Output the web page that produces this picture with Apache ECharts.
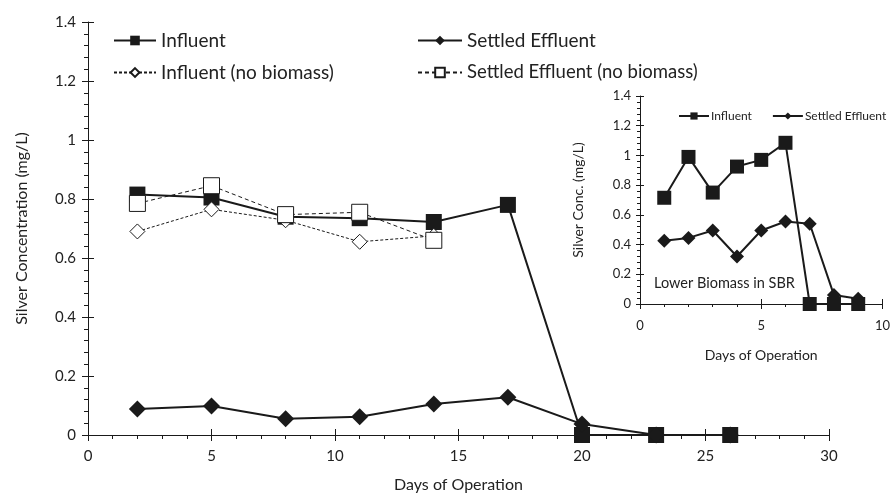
<!DOCTYPE html>
<html>
<head>
<meta charset="utf-8">
<script src="https://cdn.jsdelivr.net/npm/echarts@6/dist/echarts.min.js"></script>
<style>
  html, body { margin: 0; padding: 0; background: #fff; }
  #chart { width: 893px; height: 500px; }
</style>
</head>
<body>
<div id="chart"></div>
<script>
// main chart data (days of operation, mg/L)
const days = [2, 5, 8, 11, 14, 17, 20, 23, 26];
const influent = [0.815, 0.805, 0.74, 0.735, 0.722, 0.78, 0, 0, 0];
const settled = [0.088, 0.098, 0.055, 0.062, 0.105, 0.128, 0.037, 0, 0];
const daysNoBio = [2, 5, 8, 11, 14];
const influentNoBio = [0.69, 0.765, 0.728, 0.655, 0.675];
const settledNoBio = [0.785, 0.845, 0.747, 0.755, 0.66];

// inset: lower biomass in SBR
const insetDays = [1, 2, 3, 4, 5, 6, 7, 8, 9];
const insetInfluent = [0.715, 0.99, 0.75, 0.925, 0.97, 1.085, 0, 0, 0];
const insetSettled = [0.425, 0.445, 0.495, 0.32, 0.495, 0.555, 0.54, 0.06, 0.035];

const ink = "#1a1a1a";
const font = "Lato, 'Open Sans', sans-serif";

const pairs = (xs, ys) => xs.map((x, i) => [x, ys[i]]);

function valueAxis(opt) {
  return Object.assign({
    type: "value",
    splitLine: { show: false },
    axisLine: { show: true, onZero: false, lineStyle: { color: ink, width: 1 } },
    axisTick: { show: true, length: 6, lineStyle: { color: ink } },
    minorTick: { show: true, splitNumber: 5, length: 4, lineStyle: { color: ink } },
    axisLabel: { color: "#222", fontFamily: font, fontSize: 14 },
    nameLocation: "middle",
    nameTextStyle: { color: "#222", fontFamily: font, fontSize: 16 },
  }, opt);
}

// second copy of an axis that only draws the inner half of the major ticks
function innerTicks(opt, len) {
  return Object.assign({
    type: "value",
    splitLine: { show: false },
    axisLine: { show: false, onZero: false },
    axisTick: { show: true, inside: true, length: len, lineStyle: { color: ink } },
    axisLabel: { show: false },
  }, opt);
}

const chart = echarts.init(document.getElementById("chart"));

const legendText = { color: "#222", fontFamily: font, fontSize: 19 };

chart.setOption({
  animation: false,
  backgroundColor: "#fff",
  textStyle: { fontFamily: font },
  title: {
    text: "Lower Biomass in SBR",
    left: 654,
    top: 276,
    padding: 0,
    textStyle: { color: "#222", fontFamily: font, fontSize: 14.5, fontWeight: "normal" },
  },
  grid: [
    { left: 88, right: 64, top: 22, bottom: 65 },
    { left: 640, right: 10, top: 96, bottom: 196 },
  ],
  xAxis: [
    valueAxis({
      gridIndex: 0, min: 0, max: 30, interval: 5,
      name: "Days of Operation", nameGap: 42,
      axisLabel: { color: "#222", fontFamily: font, fontSize: 15, margin: 14 },
    }),
    valueAxis({
      gridIndex: 1, min: 0, max: 10, interval: 5,
      name: "Days of Operation", nameGap: 44,
      axisTick: { show: true, length: 5, lineStyle: { color: ink } },
      minorTick: { show: true, splitNumber: 5, length: 3, lineStyle: { color: ink } },
      axisLabel: { color: "#222", fontFamily: font, fontSize: 13, margin: 15 },
      nameTextStyle: { color: "#222", fontFamily: font, fontSize: 14 },
    }),
    innerTicks({ gridIndex: 0, position: "bottom", min: 0, max: 30, interval: 5 }, 6),
    innerTicks({ gridIndex: 1, position: "bottom", min: 0, max: 10, interval: 5 }, 5),
  ],
  yAxis: [
    valueAxis({
      gridIndex: 0, min: 0, max: 1.4, interval: 0.2,
      name: "Silver Concentration (mg/L)", nameGap: 58,
      axisLabel: { color: "#222", fontFamily: font, fontSize: 15, margin: 12 },
    }),
    valueAxis({
      gridIndex: 1, min: 0, max: 1.4, interval: 0.2,
      name: "Silver Conc. (mg/L)", nameGap: 55,
      axisTick: { show: true, length: 4, lineStyle: { color: ink } },
      minorTick: { show: true, splitNumber: 5, length: 3, lineStyle: { color: ink } },
      axisLabel: { color: "#222", fontFamily: font, fontSize: 13, margin: 9 },
      nameTextStyle: { color: "#222", fontFamily: font, fontSize: 14 },
    }),
    innerTicks({ gridIndex: 0, position: "left", min: 0, max: 1.4, interval: 0.2 }, 6),
    innerTicks({ gridIndex: 1, position: "left", min: 0, max: 1.4, interval: 0.2 }, 4),
  ],
  legend: [
    {
      left: 108, top: 26, data: ["Influent"], itemWidth: 42, itemHeight: 12,
      textStyle: legendText,
    },
    {
      left: 412, top: 26, data: ["Settled Effluent"], itemWidth: 44, itemHeight: 12,
      textStyle: legendText,
    },
    {
      left: 108, top: 58, data: ["Influent (no biomass)"], itemWidth: 42, itemHeight: 11,
      textStyle: legendText,
    },
    {
      left: 412, top: 58, data: ["Settled Effluent (no biomass)"], itemWidth: 44, itemHeight: 12,
      textStyle: { color: "#222", fontFamily: font, fontSize: 18.5 },
    },
    {
      left: 673, top: 105, data: ["Influent", "Settled Effluent"], itemWidth: 30, itemHeight: 9,
      itemGap: 20,
      textStyle: { color: "#222", fontFamily: font, fontSize: 12, padding: [0, 0, 0, -3] },
    },
  ],
  series: [
    {
      name: "Influent", type: "line", xAxisIndex: 0, yAxisIndex: 0,
      data: pairs(days, influent),
      symbol: "rect", symbolSize: 16,
      itemStyle: { color: ink },
      lineStyle: { color: ink, width: 2 },
    },
    {
      name: "Settled Effluent", type: "line", xAxisIndex: 0, yAxisIndex: 0,
      data: pairs(days, settled),
      symbol: "diamond", symbolSize: 17,
      itemStyle: { color: ink },
      lineStyle: { color: ink, width: 2 },
    },
    {
      name: "Influent (no biomass)", type: "line", xAxisIndex: 0, yAxisIndex: 0,
      data: pairs(daysNoBio, influentNoBio),
      symbol: "diamond", symbolSize: 15,
      itemStyle: { color: "#fff", borderColor: ink, borderWidth: 1 },
      lineStyle: { color: ink, width: 1, type: [3, 2] },
    },
    {
      name: "Settled Effluent (no biomass)", type: "line", xAxisIndex: 0, yAxisIndex: 0,
      data: pairs(daysNoBio, settledNoBio),
      symbol: "rect", symbolSize: 16,
      itemStyle: { color: "#fff", borderColor: ink, borderWidth: 1 },
      lineStyle: { color: ink, width: 1, type: [4, 3] },
    },
    {
      name: "Influent", type: "line", xAxisIndex: 1, yAxisIndex: 1,
      data: pairs(insetDays, insetInfluent),
      symbol: "rect", symbolSize: 14,
      itemStyle: { color: ink },
      lineStyle: { color: ink, width: 2 },
    },
    {
      name: "Settled Effluent", type: "line", xAxisIndex: 1, yAxisIndex: 1,
      data: pairs(insetDays, insetSettled),
      symbol: "diamond", symbolSize: 14,
      itemStyle: { color: ink },
      lineStyle: { color: ink, width: 2 },
    },
  ],
});
</script>
</body>
</html>
